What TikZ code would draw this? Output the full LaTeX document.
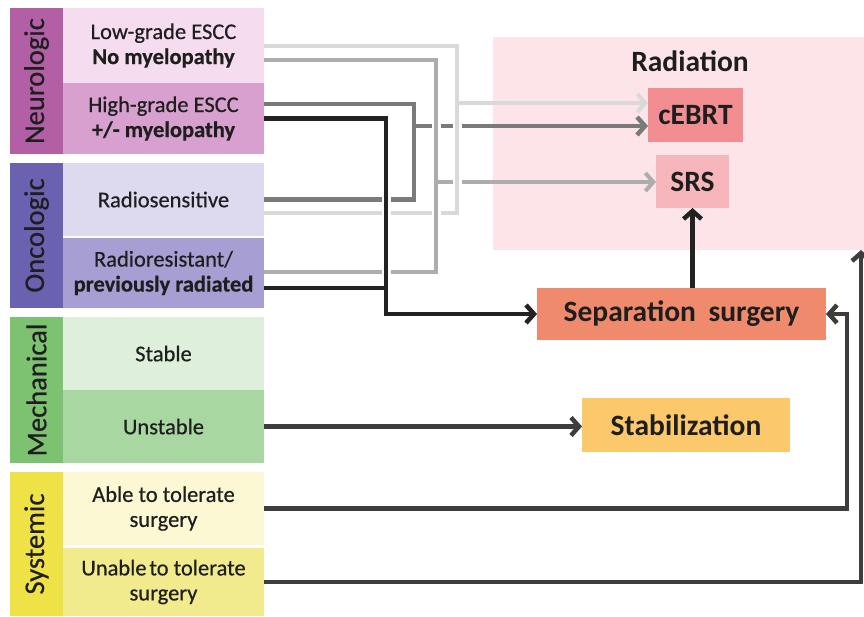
\documentclass[tikz,border=0pt]{standalone}
\usepackage{fontspec}
\setmainfont{Carlito}
\newfontfamily\semifont{Carlito}[FakeBold=0.5]
\usetikzlibrary{arrows.meta,calc}
\definecolor{neuroD}{HTML}{B25FA6}
\definecolor{neuroL}{HTML}{F5DDEF}
\definecolor{neuroM}{HTML}{D8A0CE}
\definecolor{oncoD}{HTML}{6B61B1}
\definecolor{oncoL}{HTML}{DDD9EF}
\definecolor{oncoM}{HTML}{A79ED4}
\definecolor{mechD}{HTML}{7DC271}
\definecolor{mechL}{HTML}{DEF0DB}
\definecolor{mechM}{HTML}{A8D7A1}
\definecolor{sysD}{HTML}{EFE246}
\definecolor{sysL}{HTML}{FCF8D3}
\definecolor{sysM}{HTML}{F2EB8D}
\definecolor{radbg}{HTML}{FCE4E8}
\definecolor{cebrtc}{HTML}{F28D91}
\definecolor{srsc}{HTML}{F7B6BB}
\definecolor{sepc}{HTML}{EF8B6C}
\definecolor{stabc}{HTML}{FCC86C}
\definecolor{txt}{HTML}{1E1E1E}
\definecolor{lgtc}{HTML}{D9D9D9}
\definecolor{medc}{HTML}{ADADAD}
\definecolor{dkgc}{HTML}{7A7A7A}
\definecolor{blkc}{HTML}{222222}
\definecolor{botc}{HTML}{3D3D3D}
\newcommand\mycross[3]{%
  \fill[white] (#1-4.5,#2-3.5) rectangle (#1+4.5,#2+3.5);
  \draw[#3] (#1,#2-5) -- (#1,#2+5);}
\begin{document}
\begin{tikzpicture}[x=1pt,y=-1pt,
  box/.style={inner sep=0pt, outer sep=0pt, align=center, text=txt,
    font=\fontsize{22.5}{25}\selectfont\semifont},
  bar/.style={box, rotate=90, minimum height=53pt,
    font=\fontsize{28.5}{30}\selectfont\semifont},
  sub/.style={box, minimum width=201pt},
  act/.style={box, font=\fontsize{29.5}{32}\selectfont\bfseries},
  tip/.style={-{Straight Barb[length=8pt,width=18pt]}},
  conn/.style={line cap=butt, line join=miter},
  lgt/.style={conn, draw=lgtc, line width=4pt},
  med/.style={conn, draw=medc, line width=4pt},
  dkg/.style={conn, draw=dkgc, line width=4.5pt},
  blk/.style={conn, draw=blkc, line width=4.5pt},
  bot/.style={conn, draw=botc, line width=4.5pt}]
\useasboundingbox (0,0) rectangle (864,616);
\fill[white] (0,0) rectangle (864,616);

% left category bars
\node[bar, fill=neuroD, minimum width=146pt] (neuro) at (36.5,81) {Neurologic};
\node[bar, fill=oncoD, minimum width=145pt] (onco) at (36.5,235.5) {Oncologic};
\node[bar, fill=mechD, minimum width=146pt] (mech) at (36.5,390) {Mechanical};
\node[bar, fill=sysD, minimum width=144pt] (sys) at (36.5,544) {Systemic};

% sub boxes
\node[sub, fill=neuroL, minimum height=75pt] (low) at (163.5,45.5) {Low-grade ESCC\\\textbf{No myelopathy}};
\node[sub, fill=neuroM, minimum height=71pt] (high) at (163.5,118.5) {High-grade ESCC\\\textbf{+/- myelopathy}};
\node[sub, fill=oncoL, minimum height=73pt] (rsens) at (163.5,199.5) {Radiosensitive};
\node[sub, fill=oncoM, minimum height=70pt] (rres) at (163.5,273) {Radioresistant/\\\textbf{previously radiated}};
\node[sub, fill=mechL, minimum height=73pt] (stable) at (163.5,353.5) {Stable};
\node[sub, fill=mechM, minimum height=73pt] (unstable) at (163.5,426.5) {Unstable};
\node[sub, fill=sysL, minimum height=73pt] (able) at (163.5,508.5) {Able to tolerate\\surgery};
\node[sub, fill=sysM, minimum height=68pt] (unable) at (163.5,582) {Unable\hspace{-0.1em} to tolerate\\surgery};

% right side
\node[box, fill=radbg, minimum width=377pt, minimum height=213pt] (rad) at (681.5,143.5) {};
\node[act] (radtitle) at (690,61) {Radiation};
\node[act, fill=cebrtc, minimum width=95pt, minimum height=54pt] (cebrt) at (695.5,115) {cEBRT};
\node[act, fill=srsc, minimum width=73pt, minimum height=53pt] (srs) at (692.5,181.5) {SRS};
\node[act, fill=sepc, minimum width=289pt, minimum height=52pt] (sep) at (681.5,314) {Separation\hspace{0.2em} surgery};
\node[act, fill=stabc, minimum width=208pt, minimum height=54pt] (stab) at (686,425) {Stabilization};

% junctions
\coordinate (ja) at (457,103);
\coordinate (jb) at (436,182);
\coordinate (jc) at (414,126);
\coordinate (jd) at (386,314);
\coordinate (je) at (847,314);
\coordinate (jf) at (861,250);

% lightest: low-grade + radiosensitive -> cEBRT
\draw[lgt] (low.east) -| (ja) |- ($(rsens.east)+(0,13.5)$);
\draw[lgt, tip] (ja) -- (cebrt.west |- ja);
% medium: low-grade + radioresistant -> SRS
\draw[med] ($(low.east)+(0,14.5)$) -| (jb) |- ($(rres.east)+(0,-1)$);
\draw[med, tip] (jb) -- (srs.west |- jb);
% dark gray: high-grade + radiosensitive -> cEBRT
\draw[dkg] ($(high.east)+(0,-14.5)$) -| (jc) |- (rsens.east);
\draw[dkg, tip] (jc) -- (cebrt.west |- jc);
% black: high-grade + radioresistant -> separation surgery
\draw[blk] ($(rres.east)+(0,15)$) -| (jd);
\draw[blk, tip] (high.east) -| (jd) -- (sep.west);

% crossings
\mycross{386}{199.5}{blk}
\mycross{386}{213}{blk}
\mycross{386}{272}{blk}
\mycross{436}{126}{med}
\mycross{436}{213}{med}
\mycross{457}{126}{lgt}
\mycross{457}{182}{lgt}

% other connectors
\draw[bot, tip] (unstable.east) -- (unstable.east -| stab.west);
\draw[bot, tip] (able.east) -| (je) -- (sep.east);
\draw[bot, tip] (unable.east) -| (jf);
\draw[blk, tip] (sep.north -| srs.south) -- (srs.south);
\end{tikzpicture}
\end{document}
